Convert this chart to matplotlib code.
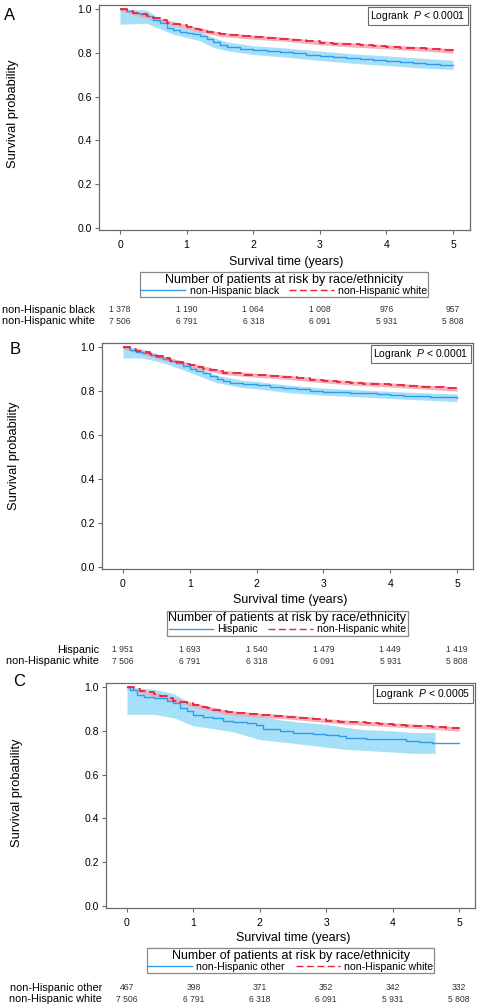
import matplotlib
matplotlib.use("Agg")
import matplotlib.pyplot as plt
from matplotlib.lines import Line2D
from matplotlib.transforms import blended_transform_factory as btf

plt.rcParams['font.family'] = ['Liberation Sans', 'DejaVu Sans']
plt.rcParams['mathtext.fontset'] = 'custom'
plt.rcParams['mathtext.it'] = 'Liberation Sans:italic'
plt.rcParams['mathtext.rm'] = 'Liberation Sans'

# ---------------- data ----------------
year_ticks = [0, 1, 2, 3, 4, 5]
y_ticks = [0.0, 0.2, 0.4, 0.6, 0.8, 1.0]

# non-Hispanic white (reference group, same in all panels)
white_t = [0, 0.1, 0.2, 0.3, 0.4, 0.5, 0.6, 0.7, 0.8, 0.9, 1.0, 1.1, 1.2, 1.3, 1.4, 1.5, 1.6, 1.8,
           2.0, 2.2, 2.4, 2.6, 2.8, 3.0, 3.2, 3.4, 3.6, 3.8, 4.0, 4.2, 4.4, 4.6, 4.8, 5.0]
white_s = [1.0, 0.992, 0.984, 0.976, 0.968, 0.958, 0.948, 0.938, 0.930, 0.925, 0.918, 0.910, 0.902,
           0.895, 0.889, 0.884, 0.880, 0.875, 0.871, 0.866, 0.862, 0.858, 0.852, 0.846, 0.842, 0.838,
           0.834, 0.831, 0.828, 0.824, 0.820, 0.816, 0.812, 0.809]
white_ci_t = [0, 0.5, 1.0, 1.5, 2.0, 2.5, 3.0, 3.5, 4.0, 4.5, 5.0]
white_lo = [0.991, 0.949, 0.909, 0.875, 0.862, 0.852, 0.837, 0.826, 0.818, 0.809, 0.799]
white_hi = [1.0, 0.967, 0.928, 0.894, 0.881, 0.871, 0.856, 0.845, 0.837, 0.828, 0.819]

# A: non-Hispanic black
black_t = white_t
black_s = [1.0, 0.990, 0.984, 0.975, 0.966, 0.952, 0.935, 0.915, 0.905, 0.895, 0.889, 0.885, 0.877,
           0.862, 0.848, 0.836, 0.828, 0.818, 0.812, 0.806, 0.802, 0.798, 0.792, 0.786, 0.782, 0.777,
           0.772, 0.768, 0.763, 0.758, 0.753, 0.749, 0.746, 0.744]
black_ci_t = [0, 0.4, 0.6, 0.8, 1.0, 1.2, 1.4, 1.6, 2.0, 2.5, 3.0, 3.5, 4.0, 4.5, 5.0]
black_lo = [0.93, 0.935, 0.91, 0.885, 0.87, 0.855, 0.825, 0.81, 0.792, 0.78, 0.765, 0.752, 0.742, 0.731, 0.724]
black_hi = [1.0, 0.995, 0.955, 0.93, 0.91, 0.90, 0.87, 0.85, 0.832, 0.822, 0.808, 0.795, 0.786, 0.776, 0.766]

# B: Hispanic
hisp_t = white_t
hisp_s = [1.0, 0.985, 0.978, 0.972, 0.965, 0.955, 0.945, 0.935, 0.928, 0.915, 0.902, 0.890, 0.880,
          0.870, 0.855, 0.845, 0.838, 0.830, 0.826, 0.820, 0.813, 0.808, 0.802, 0.797, 0.794, 0.791,
          0.789, 0.786, 0.782, 0.779, 0.777, 0.774, 0.771, 0.768]
hisp_ci_t = [0, 0.3, 0.6, 1.0, 1.4, 1.8, 2.0, 2.5, 3.0, 3.5, 4.0, 4.5, 5.0]
hisp_lo = [0.95, 0.95, 0.928, 0.885, 0.838, 0.815, 0.81, 0.792, 0.781, 0.774, 0.766, 0.759, 0.752]
hisp_hi = [1.0, 0.99, 0.96, 0.918, 0.872, 0.848, 0.843, 0.826, 0.813, 0.806, 0.798, 0.792, 0.786]

# C: non-Hispanic other
other_t = [0, 0.05, 0.15, 0.25, 0.4, 0.6, 0.7, 0.8, 0.9, 1.0, 1.15, 1.3, 1.45, 1.6, 1.8, 1.95, 2.05,
           2.3, 2.5, 2.8, 3.0, 3.2, 3.3, 3.6, 4.0, 4.2, 4.4, 4.6, 5.0]
other_s = [1.0, 0.985, 0.965, 0.955, 0.948, 0.935, 0.925, 0.905, 0.89, 0.872, 0.865, 0.858, 0.845,
           0.84, 0.835, 0.826, 0.808, 0.80, 0.792, 0.786, 0.782, 0.775, 0.765, 0.762, 0.762, 0.752,
           0.749, 0.746, 0.746]
other_ci_t = [0, 0.4, 0.7, 1.0, 1.3, 1.6, 2.0, 2.3, 2.6, 3.0, 3.3, 3.6, 4.0, 4.3, 4.64]
other_lo = [0.875, 0.875, 0.86, 0.823, 0.81, 0.795, 0.76, 0.75, 0.74, 0.725, 0.715, 0.71, 0.703, 0.697, 0.697]
other_hi = [1.0, 0.99, 0.97, 0.92, 0.90, 0.885, 0.87, 0.85, 0.84, 0.83, 0.815, 0.805, 0.80, 0.792, 0.792]

# numbers at risk
risk_black = [1378, 1190, 1064, 1008, 976, 957]
risk_hisp = [1951, 1693, 1540, 1479, 1449, 1419]
risk_other = [467, 398, 371, 352, 342, 332]
risk_white = [7506, 6791, 6318, 6091, 5931, 5808]

panel_letters = ["A", "B", "C"]
group_names = ["non-Hispanic black", "Hispanic", "non-Hispanic other"]
ref_name = "non-Hispanic white"
pvals = ["0.0001", "0.0001", "0.0005"]

# ---------------- styling / layout ----------------
W, H = 479, 1008
BLUE = "#2f9bef"
BLUE_BAND = "#a6e0f8"
RED = "#e8243c"
RED_BAND = "#f4a2b0"
EDGE = "#6b6b6b"

fig = plt.figure(figsize=(W / 100, H / 100), dpi=100)


def fy(y):
    return 1 - y / H


layouts = [
    dict(l=99, r=470, t=5, b=230, x0=120, x5=453, y1=9, y0=228,
         tick_y=243, xlab_y=262, leg_c=(284, 284.5), rows=(310, 321), lab_r=95,
         letter=(10, 16), ylab=(13, 114)),
    dict(l=102, r=473, t=343, b=569, x0=123, x5=457, y1=347, y0=567,
         tick_y=582, xlab_y=600, leg_c=(287.5, 623.5), rows=(650, 661), lab_r=99,
         letter=(15, 349), ylab=(14, 456)),
    dict(l=106, r=475, t=683, b=908, x0=127, x5=459, y1=687, y0=906,
         tick_y=921, xlab_y=938, leg_c=(290.5, 960.5), rows=(988, 999), lab_r=102,
         letter=(19, 681), ylab=(17, 793)),
]

groups = [
    (black_t, black_s, black_ci_t, black_lo, black_hi, risk_black),
    (hisp_t, hisp_s, hisp_ci_t, hisp_lo, hisp_hi, risk_hisp),
    (other_t, other_s, other_ci_t, other_lo, other_hi, risk_other),
]

for i, L in enumerate(layouts):
    gt, gs, gct, glo, ghi, grisk = groups[i]
    ax = fig.add_axes([L['l'] / W, fy(L['b']), (L['r'] - L['l']) / W, (L['b'] - L['t']) / H])
    xs = (L['x5'] - L['x0']) / 5.0
    ax.set_xlim(-(L['x0'] - L['l']) / xs, 5 + (L['r'] - L['x5']) / xs)
    ys = (L['y0'] - L['y1'])
    ax.set_ylim(-(L['b'] - L['y0']) / ys, 1 + (L['y1'] - L['t']) / ys)

    # bands
    ax.fill_between(gct, glo, ghi, color=BLUE_BAND, lw=0, zorder=1)
    ax.fill_between(white_ci_t, white_lo, white_hi, color=RED_BAND, lw=0, alpha=0.85, zorder=2)
    # curves
    ax.plot(gt, gs, drawstyle='steps-post', color=BLUE, lw=1.0, zorder=3)
    ax.plot(white_t, white_s, drawstyle='steps-post', color=RED, lw=1.3, zorder=4,
            dashes=(5, 2.5))

    for sp in ax.spines.values():
        sp.set_color(EDGE)
        sp.set_linewidth(0.9)
    ax.set_xticks(year_ticks)
    ax.set_yticks(y_ticks)
    ax.set_yticklabels([f"{v:.1f}" for v in y_ticks])
    ax.tick_params(axis='both', direction='out', length=3, width=0.8, color=EDGE,
                   labelsize=7.5, pad=2)
    ax.tick_params(axis='x', pad=L['tick_y'] - L['b'] - 9)

    ax.text(0.988, 0.983, r"Logrank  $P$ < " + pvals[i], transform=ax.transAxes,
            ha='right', va='top', fontsize=7.5,
            bbox=dict(boxstyle='square,pad=0.2', fc='white', ec=EDGE, lw=0.8))

    # axis labels
    fig.text((L['x0'] + L['x5']) / 2 / W, fy(L['xlab_y']), "Survival time (years)",
             ha='center', va='center', fontsize=9)
    fig.text(L['ylab'][0] / W, fy(L['ylab'][1]), "Survival probability", rotation=90,
             ha='center', va='center', fontsize=9.3)
    fig.text(L['letter'][0] / W, fy(L['letter'][1]), panel_letters[i], ha='center',
             va='center', fontsize=12)

    # legend
    handles = [Line2D([], [], color=BLUE, lw=1.0),
               Line2D([], [], color=RED, lw=1.0, dashes=(5, 2.5))]
    leg = fig.legend(handles, [group_names[i], ref_name], ncol=2, loc='center',
                     bbox_to_anchor=(L['leg_c'][0] / W, fy(L['leg_c'][1])),
                     title="Number of patients at risk by race/ethnicity",
                     title_fontsize=9, fontsize=7.6, frameon=True, fancybox=False,
                     edgecolor=EDGE, handlelength=4.2, handletextpad=0.4, columnspacing=1.0,
                     borderpad=0.12, labelspacing=0.1, borderaxespad=0)
    leg.get_frame().set_linewidth(0.9)
    leg._legend_box.sep = 0

    # risk table
    tr = btf(ax.transData, fig.transFigure)
    row_names = [group_names[i], ref_name]
    row_vals = [grisk, risk_white]
    for r in range(2):
        yy = fy(L['rows'][r])
        fig.text(L['lab_r'] / W, yy, row_names[r], ha='right', va='center', fontsize=7.8)
        for t, n in zip(year_ticks, row_vals[r]):
            s = f"{n:,}".replace(",", " ")
            ax.text(t, yy, s, transform=tr, ha='center', va='center', fontsize=6.2,
                    color='#333333', clip_on=False)

fig.savefig("out.png", dpi=100)
